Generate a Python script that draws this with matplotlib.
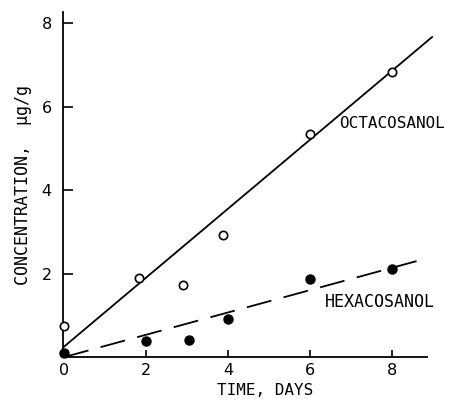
import numpy as np
import matplotlib
matplotlib.use('Agg')
import matplotlib.pyplot as plt

# data
days_octa = [0, 1.83, 2.9, 3.88, 6, 8]
octacosanol = [0.75, 1.9, 1.73, 2.93, 5.35, 6.83]
days_hexa = [0, 2, 3.05, 4, 6, 8]
hexacosanol = [0.1, 0.38, 0.42, 0.92, 1.88, 2.12]

# drawn trend lines (end points)
octa_fit_x = [0, 8.98]
octa_fit_y = [0.25, 7.67]
hexa_fit_x = [0, 8.6]
hexa_fit_y = [0.0, 2.3]

xticks = [0, 2, 4, 6, 8]
yticks = [2, 4, 6, 8]

mono = 'DejaVu Sans Mono'
tickfont = ['Liberation Sans Narrow', 'DejaVu Sans']

fig = plt.figure(figsize=(4.55, 3.99), dpi=100)
ax = fig.add_axes([0.138, 0.105, 0.8, 0.865])

ax.plot(octa_fit_x, octa_fit_y, color='black', lw=1.3, clip_on=False)
ax.plot(hexa_fit_x, hexa_fit_y, color='black', lw=1.3, dashes=(14, 7), clip_on=False)
ax.plot(days_octa, octacosanol, 'o', ms=6, mfc='white', mec='black', mew=1.2, clip_on=False, zorder=3)
ax.plot(days_hexa, hexacosanol, 'o', ms=6.5, mfc='black', mec='black', clip_on=False, zorder=3)

ax.text(6.7, 5.59, 'OCTACOSANOL', family=mono, fontsize=11.5, va='center', ha='left')
ax.text(6.37, 1.32, 'HEXACOSANOL', family=mono, fontsize=12, va='center', ha='left')

ax.set_xlim(-0.03, 8.85)
ax.set_ylim(0, 8.27)
ax.set_xticks(xticks)
ax.set_yticks(yticks)
ax.set_xticklabels([str(t) for t in xticks], family=tickfont, fontsize=11.5)
ax.set_yticklabels([str(t) for t in yticks], family=tickfont, fontsize=11.5)
ax.tick_params(axis='x', direction='in', length=5, width=1.2, pad=4)
ax.tick_params(axis='y', direction='in', length=7, width=1.2, pad=8)
ax.xaxis.get_major_ticks()[0].tick1line.set_visible(False)

for s in ['top', 'right']:
    ax.spines[s].set_visible(False)
for s in ['left', 'bottom']:
    ax.spines[s].set_linewidth(1.3)

ax.set_xlabel('TIME, DAYS', family=mono, fontsize=11.5, va='center')
ax.xaxis.set_label_coords(0.555, -0.097)
ax.set_ylabel('CONCENTRATION,  \u03bcg/g', family=mono, fontsize=12, va='center')
ax.yaxis.set_label_coords(-0.11, 0.5)

fig.savefig('out.png', dpi=100)
